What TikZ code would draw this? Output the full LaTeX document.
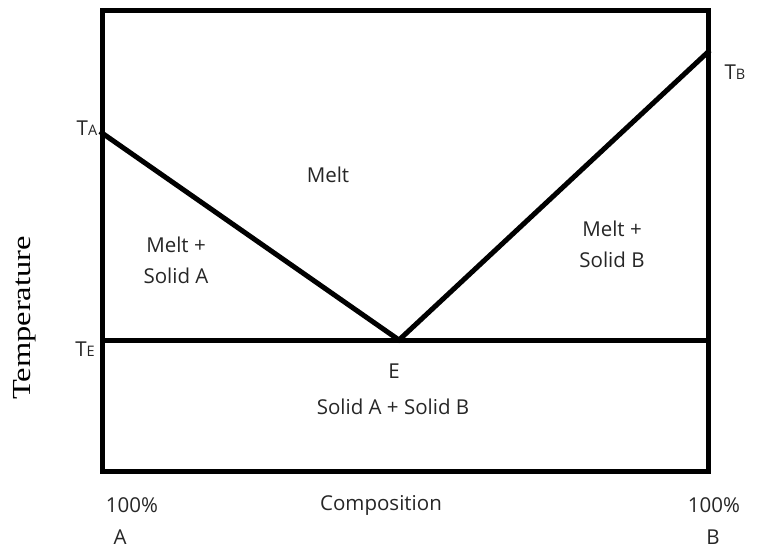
\documentclass[tikz,border=0pt]{standalone}
\usepackage{fontspec}
\setmainfont{Open Sans}
\newfontfamily\serifT{Liberation Serif}
\begin{document}
\begin{tikzpicture}[x=1pt,y=-1pt,
  lbl/.style={font=\fontsize{20.5}{25}\selectfont, text=black!85, inner sep=0pt, align=center},
  bound/.style={line width=5pt, line cap=rect}]
\useasboundingbox (0,0) rectangle (763,551);
\coordinate (TL) at (102,11);
\coordinate (TR) at (708,11);
\coordinate (BL) at (102,471);
\coordinate (BR) at (708,471);
\coordinate (TAp) at (102,133);
\coordinate (TBp) at (708,52);
\coordinate (Ep) at (399,340);
\coordinate (TEl) at (102,340);
\coordinate (TEr) at (708,340);
\draw[bound] (BL) -- (TL) -- (TR) -- (BR) -- cycle;
\draw[bound, line cap=butt] (TEl) -- (TEr);
\draw[bound, line join=miter] (TAp) -- (Ep) -- (TBp);
\node[lbl] (ta) at (87,128) {T{\fontsize{14.5}{16}\selectfont A}};
\node[lbl] (tb) at (735,72) {T{\fontsize{14.5}{16}\selectfont B}};
\node[lbl] (te) at (85,349) {T{\fontsize{14.5}{16}\selectfont E}};
\node[lbl] (melt) at (328,175) {Melt};
\node[lbl] (mA) at (176,260) {Melt +\\[6pt]Solid A};
\node[lbl] (mB) at (612,244) {Melt +\\[6pt]Solid B};
\node[lbl] (e) at (394,371) {E};
\node[lbl] (ab) at (393,407) {Solid A + Solid B};
\node[lbl] (pa) at (132,505) {100\%};
\node[lbl] (a) at (120,537) {A};
\node[lbl] (comp) at (381,505) {Composition};
\node[lbl] (pb) at (714,505) {100\%};
\node[lbl] (b) at (713,537) {B};
\node[rotate=90, xscale=1.25, inner sep=0pt, font=\serifT\fontsize{26}{30}\selectfont] (temp) at (25,318) {Temperature};
\end{tikzpicture}
\end{document}
